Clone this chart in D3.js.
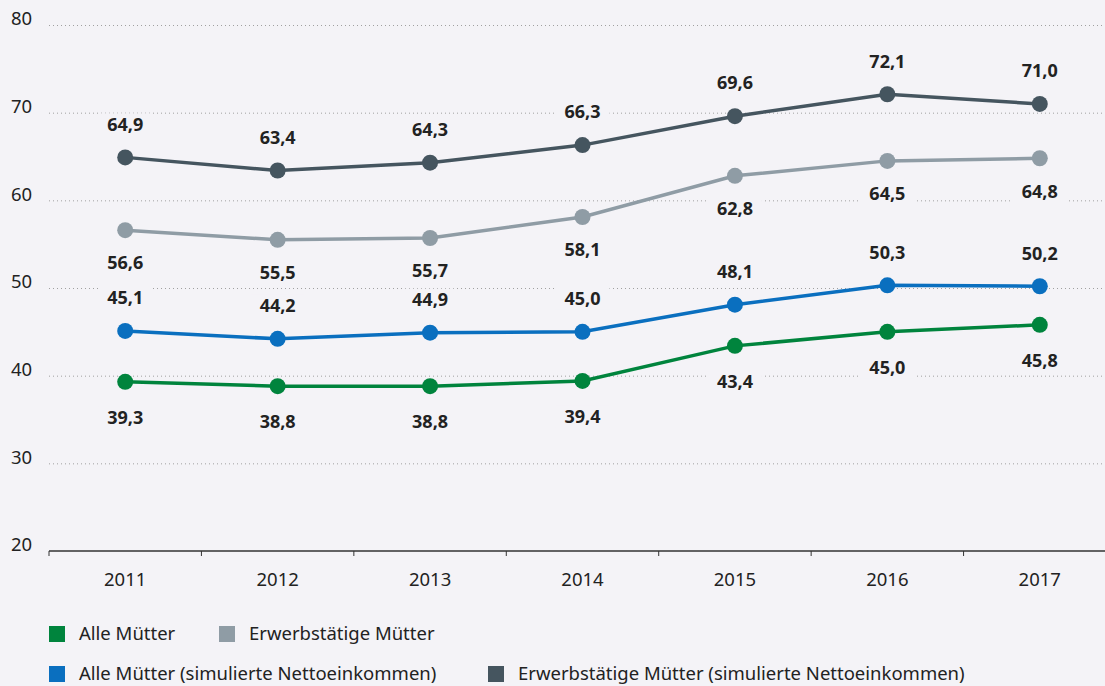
<!DOCTYPE html>
<html>
<head>
<meta charset="utf-8">
<script src="https://cdn.jsdelivr.net/npm/d3@7"></script>
<style>
  body { margin: 0; background: #f4f3f7; }
  svg { display: block; font-family: "Noto Sans", "Open Sans", sans-serif; }
</style>
</head>
<body>
<svg width="1105" height="686"></svg>
<script>
const years = ['2011', '2012', '2013', '2014', '2015', '2016', '2017'];
const alleMuetter = [39.3, 38.8, 38.8, 39.4, 43.4, 45.0, 45.8];
const erwerbMuetter = [56.6, 55.5, 55.7, 58.1, 62.8, 64.5, 64.8];
const alleSim = [45.1, 44.2, 44.9, 45.0, 48.1, 50.3, 50.2];
const erwerbSim = [64.9, 63.4, 64.3, 66.3, 69.6, 72.1, 71.0];
const yTicks = [20, 30, 40, 50, 60, 70, 80];

const series = [
  { name: 'Alle Mütter', values: alleMuetter, color: '#00843d', dy: 36 },
  { name: 'Erwerbstätige Mütter', values: erwerbMuetter, color: '#8f9ca5', dy: 33 },
  { name: 'Alle Mütter (simulierte Nettoeinkommen)', values: alleSim, color: '#0a6fbf', dy: -33 },
  { name: 'Erwerbstätige Mütter (simulierte Nettoeinkommen)', values: erwerbSim, color: '#45555f', dy: -33 }
];

const svg = d3.select('svg');

const x = d3.scaleBand()
  .domain(years)
  .range([49, 1116]);
const y = d3.scaleLinear()
  .domain([20, 80])
  .range([551, 25]);

// grid
svg.append('g')
  .selectAll('line')
  .data(yTicks.filter(d => d > 20))
  .enter()
  .append('line')
  .attr('x1', 49)
  .attr('x2', 1105)
  .attr('y1', d => y(d) + 0.5)
  .attr('y2', d => y(d) + 0.5)
  .attr('stroke', '#a0a0a0')
  .attr('stroke-width', 1)
  .attr('stroke-dasharray', '1,3');

svg.append('g')
  .selectAll('text')
  .data(yTicks)
  .enter()
  .append('text')
  .attr('x', 11)
  .attr('y', d => y(d) - 6)
  .attr('dy', '0.35em')
  .attr('font-size', 18.5)
  .attr('fill', '#222')
  .text(d => d);

// x axis
const xAxis = svg.append('g')
  .attr('transform', 'translate(0,551)');
xAxis.append('line')
  .attr('x1', 49)
  .attr('x2', 1105)
  .attr('stroke', '#333')
  .attr('stroke-width', 1.3);
xAxis.selectAll('.tick')
  .data(years)
  .enter()
  .append('line')
  .attr('x1', d => x(d))
  .attr('x2', d => x(d))
  .attr('y1', 0)
  .attr('y2', 5)
  .attr('stroke', '#333');
xAxis.selectAll('text')
  .data(years)
  .enter()
  .append('text')
  .attr('x', d => x(d) + x.bandwidth() / 2)
  .attr('y', 29)
  .attr('dy', '0.35em')
  .attr('text-anchor', 'middle')
  .attr('font-size', 18.5)
  .attr('fill', '#222')
  .text(d => d);

// lines
const line = d3.line()
  .x((d, i) => x(years[i]) + x.bandwidth() / 2)
  .y(d => y(d));

const sg = svg.selectAll('.series')
  .data(series)
  .enter()
  .append('g');

sg.append('path')
  .attr('d', d => line(d.values))
  .attr('fill', 'none')
  .attr('stroke', d => d.color)
  .attr('stroke-width', 3.5);

sg.selectAll('circle')
  .data(d => d.values.map(v => ({ v: v, s: d })))
  .enter()
  .append('circle')
  .attr('cx', (d, i) => x(years[i]) + x.bandwidth() / 2)
  .attr('cy', d => y(d.v))
  .attr('r', 8)
  .attr('fill', d => d.s.color);

// value labels with background
const lab = sg.selectAll('.lab')
  .data(d => d.values.map(v => ({ v: v, s: d })))
  .enter()
  .append('g')
  .attr('transform', (d, i) => 'translate(' + (x(years[i]) + x.bandwidth() / 2) + ',' + (y(d.v) + d.s.dy) + ')');
lab.append('rect')
  .attr('x', -27)
  .attr('y', -11)
  .attr('width', 54)
  .attr('height', 22)
  .attr('fill', '#f4f3f7');
lab.append('text')
  .attr('text-anchor', 'middle')
  .attr('dy', '0.35em')
  .attr('font-size', 18)
  .attr('font-weight', 'bold')
  .attr('fill', '#222')
  .text(d => d3.format('.1f')(d.v).replace('.', ','));

// legend
const legendPos = [[49, 634], [219, 634], [49, 674], [488, 674]];
const lg = svg.selectAll('.legend')
  .data(series)
  .enter()
  .append('g')
  .attr('transform', (d, i) => 'translate(' + legendPos[i][0] + ',' + legendPos[i][1] + ')');
lg.append('rect')
  .attr('x', 0)
  .attr('y', -8)
  .attr('width', 16)
  .attr('height', 16)
  .attr('fill', d => d.color);
lg.append('text')
  .attr('x', 30)
  .attr('dy', '0.35em')
  .attr('font-size', 18.5)
  .attr('fill', '#222')
  .text(d => d.name);
</script>
</body>
</html>
